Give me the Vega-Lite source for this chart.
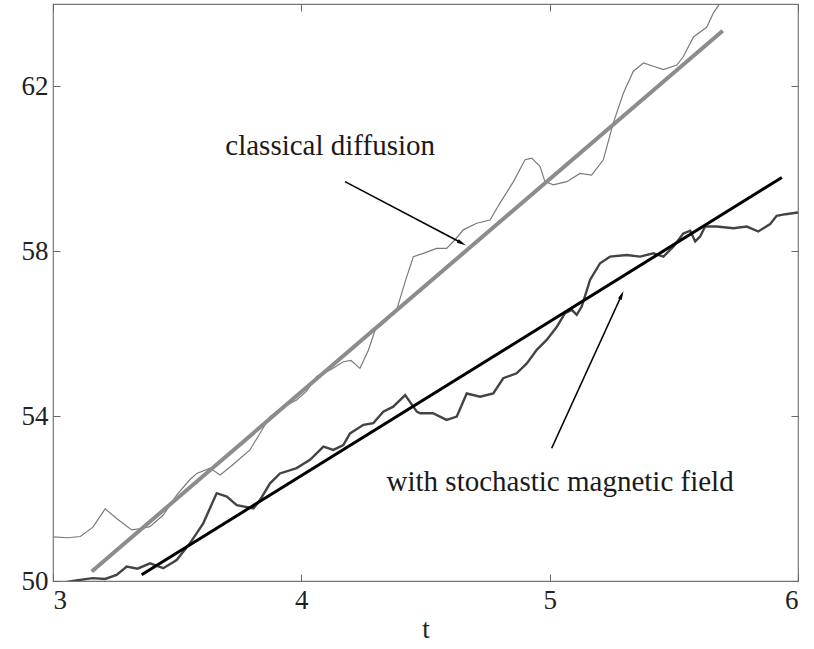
{
  "$schema": "https://vega.github.io/schema/vega-lite/v6.json",
  "width": 745,
  "height": 577,
  "autosize": {"type": "none"},
  "padding": {"left": 53, "top": 4, "right": 16, "bottom": 68},
  "background": "white",
  "config": {
    "view": {"stroke": "#777777", "strokeWidth": 1.2},
    "font": "Liberation Serif",
    "axis": {
      "grid": false,
      "domain": false,
      "tickColor": "#666666",
      "tickSize": -7,
      "tickWidth": 1,
      "labelFont": "Liberation Serif",
      "labelFontSize": 27,
      "labelColor": "#222222",
      "titleFont": "Liberation Serif",
      "titleFontSize": 27,
      "titleFontWeight": "normal",
      "titleColor": "#222222"
    }
  },
  "datasets": {
    "curves": [
      {"series": "classical", "t": 3.0, "v": 51.07},
      {"series": "classical", "t": 3.06, "v": 51.05},
      {"series": "classical", "t": 3.11, "v": 51.08},
      {"series": "classical", "t": 3.16, "v": 51.3},
      {"series": "classical", "t": 3.21, "v": 51.75},
      {"series": "classical", "t": 3.26, "v": 51.5},
      {"series": "classical", "t": 3.317, "v": 51.24},
      {"series": "classical", "t": 3.36, "v": 51.28},
      {"series": "classical", "t": 3.39, "v": 51.32},
      {"series": "classical", "t": 3.444, "v": 51.6},
      {"series": "classical", "t": 3.5, "v": 52.1},
      {"series": "classical", "t": 3.55, "v": 52.45},
      {"series": "classical", "t": 3.579, "v": 52.61},
      {"series": "classical", "t": 3.632, "v": 52.74},
      {"series": "classical", "t": 3.673, "v": 52.57},
      {"series": "classical", "t": 3.73, "v": 52.85},
      {"series": "classical", "t": 3.793, "v": 53.18},
      {"series": "classical", "t": 3.83, "v": 53.55},
      {"series": "classical", "t": 3.874, "v": 53.99},
      {"series": "classical", "t": 3.92, "v": 54.2},
      {"series": "classical", "t": 3.981, "v": 54.39},
      {"series": "classical", "t": 4.02, "v": 54.6},
      {"series": "classical", "t": 4.062, "v": 54.96},
      {"series": "classical", "t": 4.116, "v": 55.12},
      {"series": "classical", "t": 4.169, "v": 55.32},
      {"series": "classical", "t": 4.2, "v": 55.35},
      {"series": "classical", "t": 4.236, "v": 55.16},
      {"series": "classical", "t": 4.27, "v": 55.6},
      {"series": "classical", "t": 4.297, "v": 56.09},
      {"series": "classical", "t": 4.34, "v": 56.3},
      {"series": "classical", "t": 4.384, "v": 56.58},
      {"series": "classical", "t": 4.42, "v": 57.3},
      {"series": "classical", "t": 4.451, "v": 57.87},
      {"series": "classical", "t": 4.491, "v": 57.95},
      {"series": "classical", "t": 4.545, "v": 58.07},
      {"series": "classical", "t": 4.585, "v": 58.07},
      {"series": "classical", "t": 4.619, "v": 58.28},
      {"series": "classical", "t": 4.652, "v": 58.52},
      {"series": "classical", "t": 4.706, "v": 58.68},
      {"series": "classical", "t": 4.76, "v": 58.76},
      {"series": "classical", "t": 4.8, "v": 59.17},
      {"series": "classical", "t": 4.854, "v": 59.69},
      {"series": "classical", "t": 4.901, "v": 60.22},
      {"series": "classical", "t": 4.928, "v": 60.26},
      {"series": "classical", "t": 4.961, "v": 60.06},
      {"series": "classical", "t": 4.981, "v": 59.69},
      {"series": "classical", "t": 5.015, "v": 59.61},
      {"series": "classical", "t": 5.069, "v": 59.69},
      {"series": "classical", "t": 5.122, "v": 59.89},
      {"series": "classical", "t": 5.169, "v": 59.85},
      {"series": "classical", "t": 5.216, "v": 60.22},
      {"series": "classical", "t": 5.256, "v": 61.11},
      {"series": "classical", "t": 5.297, "v": 61.84},
      {"series": "classical", "t": 5.337, "v": 62.37},
      {"series": "classical", "t": 5.378, "v": 62.57},
      {"series": "classical", "t": 5.418, "v": 62.49},
      {"series": "classical", "t": 5.458, "v": 62.41},
      {"series": "classical", "t": 5.512, "v": 62.52},
      {"series": "classical", "t": 5.538, "v": 62.72},
      {"series": "classical", "t": 5.579, "v": 63.2},
      {"series": "classical", "t": 5.633, "v": 63.44},
      {"series": "classical", "t": 5.659, "v": 63.78},
      {"series": "classical", "t": 5.686, "v": 64.02},
      {"series": "classical", "t": 5.7, "v": 64.3},
      {"series": "magnetic", "t": 3.05, "v": 49.97},
      {"series": "magnetic", "t": 3.1, "v": 50.02},
      {"series": "magnetic", "t": 3.16, "v": 50.07},
      {"series": "magnetic", "t": 3.21, "v": 50.05},
      {"series": "magnetic", "t": 3.256, "v": 50.15},
      {"series": "magnetic", "t": 3.297, "v": 50.35},
      {"series": "magnetic", "t": 3.34, "v": 50.3},
      {"series": "magnetic", "t": 3.391, "v": 50.43},
      {"series": "magnetic", "t": 3.444, "v": 50.31},
      {"series": "magnetic", "t": 3.498, "v": 50.51},
      {"series": "magnetic", "t": 3.552, "v": 50.92},
      {"series": "magnetic", "t": 3.605, "v": 51.4},
      {"series": "magnetic", "t": 3.659, "v": 52.13},
      {"series": "magnetic", "t": 3.7, "v": 52.05},
      {"series": "magnetic", "t": 3.74, "v": 51.84},
      {"series": "magnetic", "t": 3.807, "v": 51.76},
      {"series": "magnetic", "t": 3.834, "v": 51.97},
      {"series": "magnetic", "t": 3.874, "v": 52.37},
      {"series": "magnetic", "t": 3.914, "v": 52.61},
      {"series": "magnetic", "t": 3.981, "v": 52.74},
      {"series": "magnetic", "t": 4.035, "v": 52.94},
      {"series": "magnetic", "t": 4.089, "v": 53.26},
      {"series": "magnetic", "t": 4.129, "v": 53.18},
      {"series": "magnetic", "t": 4.169, "v": 53.3},
      {"series": "magnetic", "t": 4.196, "v": 53.58},
      {"series": "magnetic", "t": 4.25, "v": 53.79},
      {"series": "magnetic", "t": 4.29, "v": 53.83},
      {"series": "magnetic", "t": 4.33, "v": 54.11},
      {"series": "magnetic", "t": 4.37, "v": 54.23},
      {"series": "magnetic", "t": 4.418, "v": 54.51},
      {"series": "magnetic", "t": 4.465, "v": 54.11},
      {"series": "magnetic", "t": 4.478, "v": 54.07},
      {"series": "magnetic", "t": 4.53, "v": 54.07},
      {"series": "magnetic", "t": 4.585, "v": 53.91},
      {"series": "magnetic", "t": 4.626, "v": 53.99},
      {"series": "magnetic", "t": 4.666, "v": 54.55},
      {"series": "magnetic", "t": 4.72, "v": 54.47},
      {"series": "magnetic", "t": 4.773, "v": 54.55},
      {"series": "magnetic", "t": 4.813, "v": 54.92},
      {"series": "magnetic", "t": 4.867, "v": 55.04},
      {"series": "magnetic", "t": 4.908, "v": 55.28},
      {"series": "magnetic", "t": 4.948, "v": 55.61},
      {"series": "magnetic", "t": 4.988, "v": 55.85},
      {"series": "magnetic", "t": 5.029, "v": 56.17},
      {"series": "magnetic", "t": 5.062, "v": 56.5},
      {"series": "magnetic", "t": 5.089, "v": 56.58},
      {"series": "magnetic", "t": 5.109, "v": 56.46},
      {"series": "magnetic", "t": 5.129, "v": 56.66},
      {"series": "magnetic", "t": 5.163, "v": 57.31},
      {"series": "magnetic", "t": 5.203, "v": 57.71},
      {"series": "magnetic", "t": 5.243, "v": 57.87},
      {"series": "magnetic", "t": 5.31, "v": 57.91},
      {"series": "magnetic", "t": 5.364, "v": 57.87},
      {"series": "magnetic", "t": 5.418, "v": 57.95},
      {"series": "magnetic", "t": 5.458, "v": 57.87},
      {"series": "magnetic", "t": 5.498, "v": 58.11},
      {"series": "magnetic", "t": 5.538, "v": 58.43},
      {"series": "magnetic", "t": 5.566, "v": 58.5},
      {"series": "magnetic", "t": 5.586, "v": 58.24},
      {"series": "magnetic", "t": 5.606, "v": 58.36},
      {"series": "magnetic", "t": 5.626, "v": 58.6},
      {"series": "magnetic", "t": 5.673, "v": 58.6},
      {"series": "magnetic", "t": 5.74, "v": 58.56},
      {"series": "magnetic", "t": 5.794, "v": 58.6},
      {"series": "magnetic", "t": 5.84, "v": 58.48},
      {"series": "magnetic", "t": 5.888, "v": 58.66},
      {"series": "magnetic", "t": 5.914, "v": 58.86},
      {"series": "magnetic", "t": 5.95, "v": 58.9},
      {"series": "magnetic", "t": 6.0, "v": 58.94}
    ],
    "fits": [
      {"series": "classical fit", "t": 3.156, "v": 50.23},
      {"series": "classical fit", "t": 5.697, "v": 63.35},
      {"series": "magnetic fit", "t": 3.357, "v": 50.15},
      {"series": "magnetic fit", "t": 5.935, "v": 59.79}
    ],
    "labels": [
      {"label": "classical diffusion", "t": 4.116, "v": 60.56},
      {"label": "with stochastic magnetic field", "t": 5.042, "v": 52.4}
    ],
    "arrows": [
      {"arrow": "a1", "t": 4.176, "v": 59.69, "t2": 4.646, "v2": 58.2},
      {"arrow": "a2", "t": 5.008, "v": 53.22, "t2": 5.29, "v2": 56.94}
    ]
  },
  "layer": [
    {
      "data": {"name": "curves"},
      "transform": [{"filter": "datum.series === 'classical'"}],
      "mark": {"type": "line", "color": "#7a7a7a", "strokeWidth": 1.2, "clip": true},
      "encoding": {
        "x": {"field": "t", "type": "quantitative", "scale": {"domain": [3, 6], "nice": false, "zero": false}, "axis": {"orient": "bottom", "values": [3, 4, 5, 6], "title": "t", "labelPadding": 13, "titlePadding": 3}},
        "y": {"field": "v", "type": "quantitative", "scale": {"domain": [50, 64], "nice": false, "zero": false}, "axis": {"orient": "left", "values": [50, 54, 58, 62], "title": null, "labelPadding": 12}}
      }
    },
    {
      "data": {"name": "curves"},
      "transform": [{"filter": "datum.series === 'magnetic'"}],
      "mark": {"type": "line", "color": "#444444", "strokeWidth": 2.4, "clip": true},
      "encoding": {
        "x": {"field": "t", "type": "quantitative", "axis": null},
        "y": {"field": "v", "type": "quantitative", "axis": null}
      }
    },
    {
      "data": {"name": "fits"},
      "transform": [{"filter": "datum.series === 'classical fit'"}],
      "mark": {"type": "line", "color": "#8c8c8c", "strokeWidth": 4},
      "encoding": {
        "x": {"field": "t", "type": "quantitative", "axis": null},
        "y": {"field": "v", "type": "quantitative", "axis": null}
      }
    },
    {
      "data": {"name": "fits"},
      "transform": [{"filter": "datum.series === 'magnetic fit'"}],
      "mark": {"type": "line", "color": "#000000", "strokeWidth": 3},
      "encoding": {
        "x": {"field": "t", "type": "quantitative", "axis": null},
        "y": {"field": "v", "type": "quantitative", "axis": null}
      }
    },
    {
      "data": {"name": "arrows"},
      "mark": {"type": "rule", "color": "#000000", "strokeWidth": 1.6},
      "encoding": {
        "x": {"field": "t", "type": "quantitative", "axis": null},
        "y": {"field": "v", "type": "quantitative", "axis": null},
        "x2": {"field": "t2"},
        "y2": {"field": "v2"}
      }
    },
    {
      "data": {"name": "arrows"},
      "transform": [{"filter": "datum.arrow === 'a1'"}],
      "mark": {"type": "point", "shape": "M0,-1L0.45,1L-0.45,1Z", "filled": true, "color": "#000000", "size": 80, "opacity": 1, "angle": 118},
      "encoding": {
        "x": {"field": "t2", "type": "quantitative", "axis": null},
        "y": {"field": "v2", "type": "quantitative", "axis": null}
      }
    },
    {
      "data": {"name": "arrows"},
      "transform": [{"filter": "datum.arrow === 'a2'"}],
      "mark": {"type": "point", "shape": "M0,-1L0.45,1L-0.45,1Z", "filled": true, "color": "#000000", "size": 80, "opacity": 1, "angle": 24.5},
      "encoding": {
        "x": {"field": "t2", "type": "quantitative", "axis": null},
        "y": {"field": "v2", "type": "quantitative", "axis": null}
      }
    },
    {
      "data": {"name": "labels"},
      "mark": {"type": "text", "font": "Liberation Serif", "fontSize": 29, "color": "#1a1a1a", "align": "center", "baseline": "middle"},
      "encoding": {
        "x": {"field": "t", "type": "quantitative", "axis": null},
        "y": {"field": "v", "type": "quantitative", "axis": null},
        "text": {"field": "label"}
      }
    },
    {
      "data": {"name": "fits"},
      "mark": {"type": "point", "opacity": 0},
      "encoding": {
        "x": {"field": "t", "type": "quantitative", "axis": {"orient": "top", "values": [3, 4, 5, 6], "labels": false, "title": null}},
        "y": {"field": "v", "type": "quantitative", "axis": {"orient": "right", "values": [50, 54, 58, 62], "labels": false, "title": null}}
      }
    }
  ],
  "resolve": {"axis": {"x": "independent", "y": "independent"}}
}
